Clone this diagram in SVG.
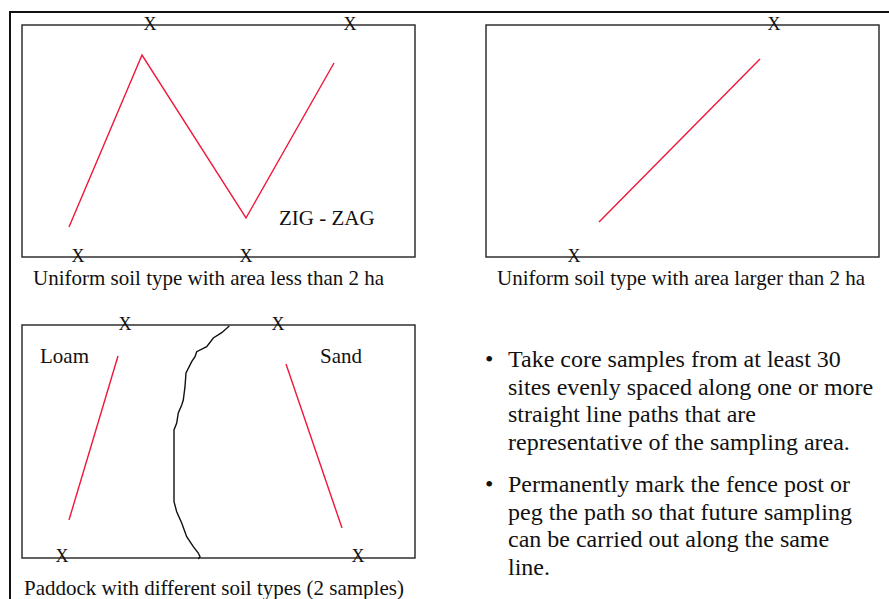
<svg xmlns="http://www.w3.org/2000/svg" width="889" height="599" viewBox="0 0 889 599">
<style>
.t{font-family:"Liberation Serif","Times New Roman",serif;fill:#111}
.cap{font-size:21px}
.x{font-size:18px;text-anchor:middle}
.b{font-size:24px}
.box{fill:none;stroke:#222;stroke-width:1.4}
.red{fill:none;stroke:#f0163a;stroke-width:1.4}
</style>
<rect width="889" height="599" fill="#fff"/>
<path d="M10,620 V12 H900" fill="none" stroke="#111" stroke-width="2"/>
<g id="panel1">
<rect class="box" x="22" y="25" width="393" height="232"/>
<polyline class="red" points="69,227 142,55 246,218 334,63"/>
<text class="t x" x="150" y="30">X</text>
<text class="t x" x="350" y="30">X</text>
<text class="t x" x="78" y="262">X</text>
<text class="t x" x="246" y="262">X</text>
<text class="t cap" x="279" y="225">ZIG - ZAG</text>
<text class="t cap" x="33" y="285">Uniform soil type with area less than 2 ha</text>
</g>
<g id="panel2">
<rect class="box" x="486" y="25" width="393" height="232"/>
<line class="red" x1="599" y1="222" x2="760" y2="59"/>
<text class="t x" x="774" y="30">X</text>
<text class="t x" x="574" y="262">X</text>
<text class="t cap" x="497" y="285">Uniform soil type with area larger than 2 ha</text>
</g>
<g id="panel3">
<rect class="box" x="22" y="325" width="393" height="233"/>
<path fill="none" stroke="#111" stroke-width="1.4" d="M229.3,326 L221.7,332.7 L213.3,338 L206.7,346.7 L196.7,351.7 L195,356.7 L191.7,361.7 L186,373 L185,386.7 L183.3,400 L181.7,405 L178.3,413 L176.7,423 L174,430 L174,501.7 L176.7,511.7 L181.7,523 L186.7,536.7 L193.3,546.7 L198.3,553 L200,556.7 L198.3,559"/>
<line class="red" x1="118" y1="356" x2="69" y2="520"/>
<line class="red" x1="286" y1="364" x2="342" y2="528"/>
<text class="t x" x="125" y="330">X</text>
<text class="t x" x="278" y="330">X</text>
<text class="t x" x="62" y="562">X</text>
<text class="t x" x="358" y="562">X</text>
<text class="t cap" x="40" y="363">Loam</text>
<text class="t cap" x="320" y="363">Sand</text>
<text class="t cap" x="24" y="595">Paddock with different soil types (2 samples)</text>
</g>
<g id="notes">
<text class="t b" x="485" y="367">•</text>
<text class="t b">
<tspan x="508" y="367">Take core samples from at least 30</tspan>
<tspan x="508" y="394.5">sites evenly spaced along one or more</tspan>
<tspan x="508" y="422">straight line paths that are</tspan>
<tspan x="508" y="449.5">representative of the sampling area.</tspan>
</text>
<text class="t b" x="485" y="492">•</text>
<text class="t b">
<tspan x="508" y="492">Permanently mark the fence post or</tspan>
<tspan x="508" y="519.5">peg the path so that future sampling</tspan>
<tspan x="508" y="547">can be carried out along the same</tspan>
<tspan x="508" y="574.5">line.</tspan>
</text>
</g>
</svg>
